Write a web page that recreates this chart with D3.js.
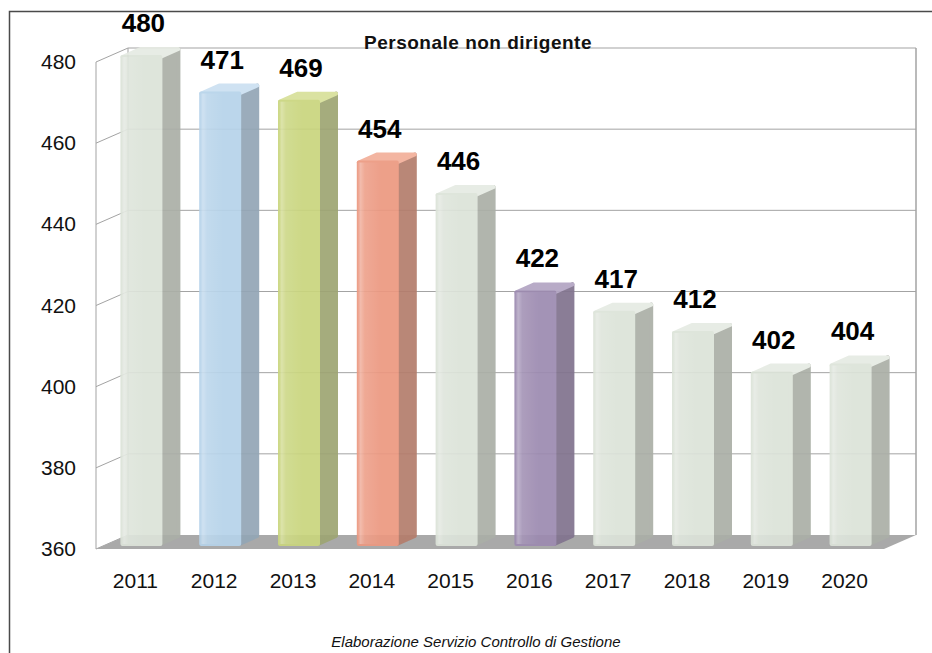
<!DOCTYPE html>
<html>
<head>
<meta charset="utf-8">
<script src="https://cdn.jsdelivr.net/npm/d3@7"></script>
<style>
  html, body { margin: 0; padding: 0; background: #fff; }
  svg { display: block; font-family: "Liberation Sans", Arial, sans-serif; }
</style>
</head>
<body>
<svg id="chart" width="932" height="653"></svg>
<script>
// --- data ---
const years = ['2011', '2012', '2013', '2014', '2015', '2016', '2017', '2018', '2019', '2020'];
const personale = [480, 471, 469, 454, 446, 422, 417, 412, 402, 404];
const yTicks = [360, 380, 400, 420, 440, 460, 480];

// per-bar palette: front / side / top
const PAL = {
  grey:   ['#dce3d9', '#abafa7', '#e6ebe3'],
  blue:   ['#b6d3ea', '#93a6b6', '#cbe0f1'],
  green:  ['#c9d57d', '#9ea573', '#d7e09a'],
  salmon: ['#ec9880', '#b47d6c', '#f2af9a'],
  purple: ['#9c8ab0', '#81738e', '#b2a4c3']
};
const barPal = ['grey', 'blue', 'green', 'salmon', 'grey', 'purple', 'grey', 'grey', 'grey', 'grey'];

const svg = d3.select('#chart');
const DX = 32, DY = -14;           // depth of the 3d box
const x = d3.scaleBand().domain(years).range([96, 884]);
const y = d3.scaleLinear().domain([360, 480]).range([549, 62]);

// gloss gradient for front faces
const defs = svg.append('defs');
const gl = defs.append('linearGradient').attr('id', 'gloss').attr('x1', 0).attr('x2', 1).attr('y1', 0).attr('y2', 0);
[[0, 0.0], [0.07, 0.3], [0.18, 0.1], [0.6, 0], [1, 0]].forEach(s =>
  gl.append('stop').attr('offset', s[0]).attr('stop-color', '#fff').attr('stop-opacity', s[1]));

// outer frame (cut at the right and bottom)
svg.append('path').attr('d', 'M9.5,653 V11.5 H932').attr('fill', 'none').attr('stroke', '#4a4a4a').attr('stroke-width', 1.5);

// walls
const walls = svg.append('g').attr('fill', 'none').attr('stroke', '#a3a3a3').attr('stroke-width', 1);
yTicks.forEach(t => {
  if (t !== 360) {
    walls.append('line').attr('x1', 96 + DX).attr('x2', 884 + DX).attr('y1', y(t) + DY).attr('y2', y(t) + DY);
  }
  walls.append('line').attr('x1', 96).attr('x2', 96 + DX).attr('y1', y(t)).attr('y2', y(t) + DY);
});
walls.append('line').attr('x1', 96).attr('x2', 96).attr('y1', y(480)).attr('y2', y(360));
walls.append('line').attr('x1', 96 + DX).attr('x2', 96 + DX).attr('y1', y(480) + DY).attr('y2', y(360) + DY);
walls.append('line').attr('x1', 884 + DX).attr('x2', 884 + DX).attr('y1', y(480) + DY).attr('y2', y(360) + DY)
  .attr('stroke-width', 1.5);

// floor
svg.append('path')
  .attr('d', `M96,${y(360)} H884 L${884 + DX},${y(360) + DY} H${96 + DX} Z`)
  .attr('fill', '#a9a9a9');

// y labels
svg.append('g').selectAll('text').data(yTicks).join('text')
  .attr('x', 76).attr('y', d => y(d) + 7)
  .attr('text-anchor', 'end').attr('font-size', 21).attr('fill', '#111')
  .text(d => d);

// x labels
svg.append('g').selectAll('text').data(years).join('text')
  .attr('x', d => x(d) + x.bandwidth() / 2).attr('y', 588)
  .attr('text-anchor', 'middle').attr('font-size', 21).attr('fill', '#111')
  .text(d => d);

// bars
const W = 38, FDX = 6, FDY = -5, SDX = 18, SDY = -8;
const bars = svg.append('g').selectAll('g').data(personale).join('g')
  .attr('opacity', 0.92)
  .attr('stroke-linejoin', 'round');

bars.each(function (v, i) {
  const g = d3.select(this);
  const c = PAL[barPal[i]];
  const x0 = x(years[i]) + (x.bandwidth() - W) / 2 + FDX, x1 = x0 + W;
  const yt = y(v) + FDY, yb = y(360) + FDY;
  g.append('path').attr('d', `M${x1},${yt} L${x1 + SDX},${yt + SDY} V${yb + SDY} L${x1},${yb} Z`)
    .attr('fill', c[1]).attr('stroke', c[1]).attr('stroke-width', 4);
  g.append('path').attr('d', `M${x0},${yt} H${x1} L${x1 + SDX},${yt + SDY} H${x0 + SDX} Z`)
    .attr('fill', c[2]).attr('stroke', c[2]).attr('stroke-width', 4);
  g.append('rect').attr('x', x0).attr('y', yt).attr('width', W).attr('height', yb - yt)
    .attr('fill', c[0]).attr('stroke', c[0]).attr('stroke-width', 4);
  g.append('rect').attr('x', x0 - 1).attr('y', yt).attr('width', W + 1).attr('height', yb - yt)
    .attr('fill', 'url(#gloss)');
});

// value labels
svg.append('g').selectAll('text').data(personale).join('text')
  .attr('x', (d, i) => x(years[i]) + (x.bandwidth() - W) / 2 + FDX + 21)
  .attr('y', d => y(d) + FDY + SDY - 17)
  .attr('text-anchor', 'middle').attr('font-size', 26).attr('font-weight', 'bold').attr('fill', '#000')
  .text(d => d);

// title
svg.append('text').attr('x', 478).attr('y', 49).attr('text-anchor', 'middle')
  .attr('font-size', 19).attr('font-weight', 'bold').attr('fill', '#111')
  .attr('letter-spacing', 0.5)
  .text('Personale non dirigente');

// footer
svg.append('text').attr('x', 476).attr('y', 647).attr('text-anchor', 'middle')
  .attr('font-size', 15).attr('font-style', 'italic').attr('fill', '#111')
  .text('Elaborazione Servizio Controllo di Gestione');
</script>
</body>
</html>
